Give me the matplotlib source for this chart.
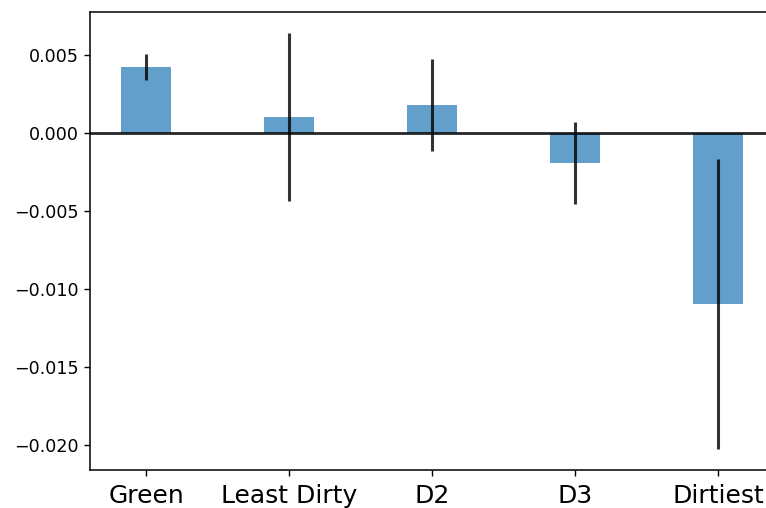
import numpy as np
import matplotlib
matplotlib.use("Agg")
import matplotlib.pyplot as plt

labels = ["Green", "Least Dirty", "D2", "D3", "Dirtiest"]
means = [0.0042, 0.00100, 0.00178, -0.00195, -0.0110]
errs = [0.00085, 0.00540, 0.00295, 0.00265, 0.00930]

x = np.arange(len(labels))

fig = plt.figure(figsize=(7.66, 5.08), dpi=100)
ax = fig.add_axes([90/766, 38/508, 684/766, 458/508])

ax.bar(x, means, width=0.35, color="#1f77b4", alpha=0.7)
ax.errorbar(x, means, yerr=errs, fmt="none", ecolor="k", elinewidth=2.2, alpha=0.8)
ax.axhline(0, color="k", lw=2, alpha=0.85)

ax.set_xticks(x)
ax.set_xticklabels(labels, fontsize=18)
ax.tick_params(axis="y", labelsize=12.6)
ax.tick_params(axis="x", pad=5.5)
ax.tick_params(length=4.4, width=1)
for s in ax.spines.values():
    s.set_linewidth(1.1)

fig.savefig("out.png", dpi=100)
